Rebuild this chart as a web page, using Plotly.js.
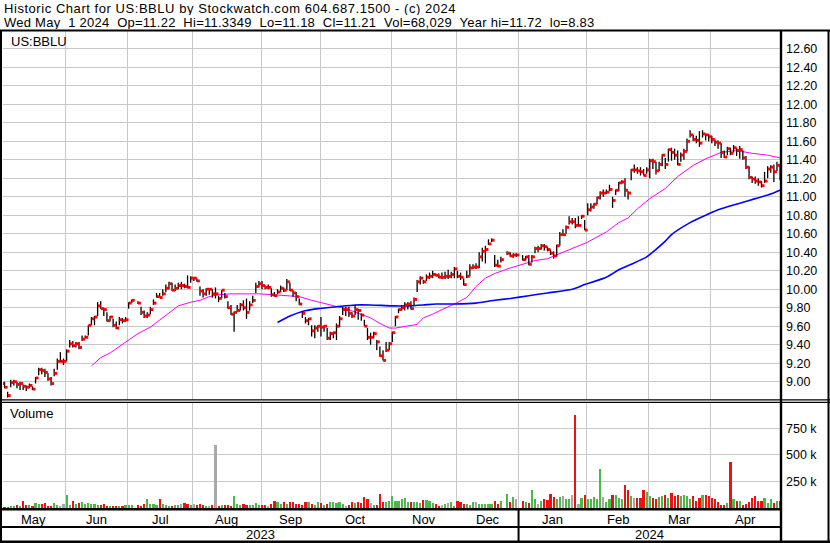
<!DOCTYPE html>
<html><head><meta charset="utf-8">
<script src="https://cdn.plot.ly/plotly-3.0.1.min.js"></script>
<style>html,body{margin:0;padding:0;background:#fff}#chart{width:830px;height:543px}</style>
</head><body><div id="chart"></div>
<script>
// ---- daily bars (trading-day index 0 = 1 May 2023 ... 252 = 1 May 2024) ----
const close = [
9.00,8.98,8.94,8.85,8.99,9.00,8.97,8.98,8.95,8.94,
8.96,8.92,9.04,9.13,9.12,9.10,9.03,8.98,9.09,9.22,
9.22,9.22,9.33,9.41,9.39,9.41,9.37,9.46,9.48,9.61,
9.68,9.70,9.82,9.79,9.78,9.66,9.70,9.61,9.58,9.67,
9.66,9.67,9.85,9.88,null,9.85,9.75,9.71,9.72,9.78,
9.85,9.92,9.91,9.95,10.01,10.06,9.99,10.01,10.04,10.04,
10.03,10.02,10.12,10.12,10.09,9.98,9.95,10.00,10.00,9.95,
9.95,9.90,9.99,9.92,9.80,9.73,9.75,9.77,9.83,9.80,
9.75,9.83,9.88,10.03,10.06,10.04,10.02,10.02,9.94,9.93,
9.97,10.01,9.99,10.08,9.99,9.96,9.92,9.84,9.74,9.66,
9.68,9.55,9.58,9.60,9.59,9.60,9.47,9.52,9.53,9.60,
9.68,9.78,9.78,9.74,9.71,9.78,9.77,9.72,9.60,9.48,
9.48,9.52,9.43,9.28,9.23,9.34,9.41,9.53,9.70,9.78,
9.80,9.83,9.84,9.79,9.89,10.08,10.12,10.08,10.13,10.14,
10.16,10.15,10.13,10.13,10.14,10.14,10.16,10.22,10.14,10.13,
10.05,10.14,10.23,10.24,10.24,10.35,10.41,10.43,10.49,10.53,
10.26,10.25,10.32,null,10.39,10.36,10.37,10.37,null,10.32,
10.35,10.27,10.35,10.44,10.44,10.47,10.46,10.43,10.39,10.36,
10.47,10.59,10.59,10.67,10.73,10.73,10.69,10.69,10.79,10.64,
10.86,10.89,10.92,10.99,11.04,11.04,11.05,11.08,10.96,11.07,
11.15,11.16,11.07,11.04,11.29,11.29,11.28,11.27,11.23,11.29,
11.39,11.38,11.28,11.35,11.45,11.35,11.51,11.48,11.45,11.35,
11.45,11.49,11.60,11.67,11.62,11.61,11.58,11.68,11.67,11.65,
11.62,11.59,11.58,11.48,11.43,11.52,11.47,11.53,11.50,11.51,
11.42,11.32,11.21,11.19,11.17,11.16,11.12,11.17,11.30,11.32,
11.27,11.34,11.21];
const high = [
9.05,9.07,9.00,8.89,9.02,9.02,9.00,9.00,8.97,8.96,
8.98,8.95,9.05,9.15,9.15,9.14,9.09,9.05,9.14,9.25,
9.32,9.25,9.35,9.45,9.44,9.43,9.43,9.50,9.50,9.61,
9.70,9.71,9.86,9.87,9.80,9.75,9.71,9.68,9.65,9.70,
9.69,9.70,9.86,9.89,null,9.87,9.81,9.77,9.75,9.81,
9.89,9.96,9.96,10.00,10.05,10.08,10.07,10.05,10.07,10.08,
10.06,10.15,10.14,10.13,10.12,10.03,10.00,10.01,10.01,10.00,
10.02,9.93,9.99,9.96,9.87,9.83,9.76,9.83,9.85,9.88,
9.90,9.87,9.93,10.07,10.09,10.09,10.04,10.05,10.01,9.97,
10.00,10.04,10.02,10.11,10.07,9.99,9.97,9.90,9.76,9.70,
9.69,9.61,9.61,9.61,9.70,9.61,9.58,9.54,9.54,9.63,
9.71,9.81,9.81,9.81,9.75,9.83,9.79,9.74,9.67,9.58,
9.53,9.54,9.45,9.38,9.34,9.43,9.43,9.54,9.71,9.79,
9.83,9.86,9.86,9.87,9.91,10.10,10.14,10.10,10.16,10.18,
10.20,10.17,10.17,10.18,10.19,10.21,10.19,10.24,10.20,10.18,
10.12,10.20,10.27,10.27,10.28,10.40,10.45,10.47,10.54,10.55,
10.37,10.32,10.35,null,10.41,10.40,10.39,10.39,null,10.37,
10.36,10.37,10.37,10.46,10.47,10.49,10.49,10.46,10.43,10.41,
10.48,10.62,10.65,10.69,10.79,10.77,10.77,10.79,10.80,10.75,
10.93,10.93,10.93,11.00,11.06,11.08,11.08,11.13,11.00,11.08,
11.16,11.18,11.20,11.06,11.30,11.35,11.32,11.32,11.30,11.32,
11.41,11.41,11.38,11.38,11.46,11.42,11.52,11.53,11.52,11.50,
11.48,11.52,11.63,11.72,11.67,11.66,11.71,11.72,11.68,11.68,
11.66,11.62,11.61,11.58,11.50,11.54,11.53,11.56,11.53,11.55,
11.50,11.44,11.33,11.22,11.22,11.20,11.17,11.27,11.33,11.34,
11.35,11.38,11.3349];
const low = [
8.96,8.94,8.93,8.83,8.94,8.96,8.93,8.91,8.91,8.90,
8.93,8.91,8.98,9.07,9.08,9.05,9.01,8.96,9.06,9.13,
9.21,9.18,9.22,9.37,9.37,9.37,9.35,9.44,9.47,9.50,
9.61,9.61,9.71,9.79,9.71,9.65,9.65,9.59,9.57,9.61,
9.63,9.65,9.79,9.85,null,9.84,9.72,9.69,9.69,9.73,
9.83,9.91,9.91,9.93,9.97,10.00,9.98,9.98,10.00,10.00,
10.01,10.01,10.07,10.09,10.08,9.93,9.91,9.93,9.94,9.91,
9.90,9.86,9.90,9.90,9.79,9.72,9.54,9.76,9.77,9.77,
9.68,9.77,9.85,9.96,10.02,10.00,10.00,10.00,9.92,9.92,
9.95,9.97,9.97,9.99,9.98,9.92,9.87,9.83,9.69,9.63,
9.61,9.49,9.47,9.54,9.49,9.54,9.45,9.45,9.47,9.45,
9.59,9.72,9.71,9.70,9.69,9.72,9.67,9.66,9.60,9.45,
9.40,9.47,9.34,9.27,9.23,9.32,9.34,9.43,9.60,9.74,
9.77,9.77,9.78,9.78,9.83,9.97,10.05,10.06,10.09,10.11,
10.12,10.14,10.12,10.11,10.11,10.11,10.12,10.12,10.12,10.10,
10.04,10.12,10.14,10.22,10.22,10.23,10.30,10.28,10.48,10.51,
10.24,10.24,10.29,null,10.37,10.35,10.34,10.35,null,10.31,
10.31,10.26,10.29,10.39,10.40,10.43,10.42,10.41,10.37,10.33,
10.35,10.47,10.58,10.60,10.70,10.70,10.66,10.68,10.76,10.64,
10.80,10.84,10.87,10.92,10.97,11.00,11.03,11.06,10.88,11.02,
11.06,11.14,11.00,10.97,11.18,11.26,11.25,11.23,11.23,11.25,
11.20,11.30,11.24,11.28,11.33,11.30,11.38,11.39,11.40,11.34,
11.38,11.40,11.49,11.64,11.60,11.58,11.54,11.64,11.61,11.60,
11.58,11.55,11.52,11.42,11.42,11.45,11.45,11.48,11.44,11.41,
11.40,11.30,11.19,11.15,11.14,11.12,11.10,11.15,11.20,11.26,
11.16,11.28,11.18];
// volume in thousands of shares
const volumeK = [
30,32,10,12,22,20,25,22,70,25,
25,22,45,35,40,45,20,15,50,30,
20,40,125,30,65,40,50,55,40,45,
35,40,30,30,40,20,20,15,20,15,
20,30,25,25,0,30,20,35,85,40,
35,30,85,35,25,20,20,30,30,40,
45,35,25,35,30,35,25,20,15,25,
596,15,30,30,30,15,115,40,25,35,
30,25,30,50,30,30,25,20,35,65,
60,40,55,40,60,55,35,35,25,55,
55,40,30,60,50,25,40,60,60,50,
55,40,20,25,60,50,60,50,100,80,
45,25,30,130,55,60,70,110,65,70,
85,95,60,60,55,60,50,75,75,70,
45,40,15,30,40,50,55,20,70,60,
40,35,25,55,55,35,40,40,35,40,
70,40,70,0,130,60,100,80,0,70,
60,50,165,80,40,65,85,75,130,105,
80,105,110,80,80,120,871,40,90,120,
85,85,105,85,371,105,60,85,120,120,
95,80,217,165,115,90,90,95,165,150,
110,95,80,105,110,120,90,140,110,125,
110,120,110,85,110,70,90,120,120,110,
90,80,60,30,30,50,429,85,70,70,
30,40,55,95,110,70,65,90,50,80,
50,70,68.029];
// moving averages (day index, price)
const maShortDay = [30,33,36,39,42,45,49,52,55,58,62,65,68,71,75,80,84,89,97,101,106,109,113,116,120,123,126,128,132,135,137,140,143,147,151,154,157,160,165,169,173,177,185,190,196,200,203,206,210,215,219,224,228,230,233,238,243,248,252];
const maShortVal = [9.17,9.26,9.31,9.38,9.45,9.52,9.59,9.67,9.75,9.82,9.86,9.88,9.92,9.94,9.95,9.95,9.95,9.94,9.92,9.88,9.84,9.81,9.78,9.74,9.69,9.63,9.58,9.58,9.60,9.62,9.69,9.73,9.78,9.84,9.91,10.03,10.12,10.17,10.23,10.27,10.31,10.33,10.44,10.51,10.62,10.72,10.77,10.87,10.98,11.09,11.22,11.34,11.41,11.44,11.48,11.50,11.47,11.45,11.42];
const maLongDay = [90,94,98,103,109,115,120,127,132,137,141,147,154,160,165,171,177,185,189,196,200,204,209,212,215,217,223,228,233,239,244,249,252];
const maLongVal = [9.64,9.71,9.76,9.79,9.81,9.83,9.83,9.82,9.82,9.83,9.84,9.84,9.85,9.88,9.90,9.93,9.96,10.00,10.05,10.13,10.21,10.27,10.35,10.43,10.52,10.59,10.72,10.80,10.87,10.93,10.98,11.03,11.07];
// calendar / tick labels
const months = ['May','Jun','Jul','Aug','Sep','Oct','Nov','Dec','Jan','Feb','Mar','Apr'];
const monthStart = [1.5,22,42,63,85,104,127,148,168,190,210,230]; // first day index of each month on the chart
const years = ['2023','2024'];
const yearStartMonth = [0,8];
const priceTicks = [9.00,9.20,9.40,9.60,9.80,10.00,10.20,10.40,10.60,10.80,11.00,11.20,11.40,11.60,11.80,12.00,12.20,12.40,12.60];
const volTicks = [250,500,750];
const volTickText = ['250 k','500 k','750 k'];
const titleLine1 = 'Historic Chart for US:BBLU by Stockwatch.com 604.687.1500 - (c) 2024';
const titleLine2 = 'Wed May\u00a0\u00a01 2024\u00a0\u00a0Op=11.22\u00a0\u00a0Hi=11.3349\u00a0\u00a0Lo=11.18\u00a0\u00a0Cl=11.21\u00a0\u00a0Vol=68,029\u00a0\u00a0Year hi=11.72\u00a0\u00a0lo=8.83';

// ---------------- build ----------------
const W = 830, H = 543, L = 3, R = 781, T = 31, B = 509;
const px = x => (x - L) / (R - L);
const py = y => (B - y) / (B - T);
const xEnd = 252.3;
const FONT = 'Liberation Sans, Arial, sans-serif';

const n = close.length;
const segX = [], segY = [], cX = [], cY = [];
for (let i = 0; i < n; i++) {
  if (close[i] == null) continue;
  segX.push(i, i, null); segY.push(low[i], high[i], null);
  cX.push(i + 0.5); cY.push(close[i]);
}
// volume colour: up = green, down = red, unchanged = grey
const volColor = []; let prev = null;
for (let i = 0; i < n; i++) {
  const c = close[i];
  if (c == null || prev == null) volColor.push('#a8a8a8');
  else if (c > prev + 1e-9) volColor.push('#4cb848');
  else if (c < prev - 1e-9) volColor.push('#f01010');
  else volColor.push('#a8a8a8');
  if (c != null) prev = c;
}
const idx = close.map((_, i) => i);

const traces = [
  {type:'scatter', mode:'lines', x:maShortDay, y:maShortVal, line:{color:'#ff00ff', width:1}, xaxis:'x', yaxis:'y', hoverinfo:'skip'},
  {type:'scatter', mode:'lines', x:maLongDay, y:maLongVal, line:{color:'#0000ff', width:1.6, shape:'spline', smoothing:0.6}, xaxis:'x', yaxis:'y', hoverinfo:'skip'},
  {type:'scatter', mode:'lines', x:segX, y:segY, line:{color:'#000', width:1.3}, xaxis:'x', yaxis:'y', hoverinfo:'skip', connectgaps:false},
  {type:'scatter', mode:'markers', x:cX, y:cY, marker:{symbol:'square', size:2.9, color:'#ff0000', line:{width:0}}, xaxis:'x', yaxis:'y', hoverinfo:'skip'},
  {type:'bar', x:idx, y:volumeK, marker:{color:volColor, line:{width:0}}, width:0.7, xaxis:'x', yaxis:'y2', hoverinfo:'skip'}
];

const gridVals = monthStart.slice(1).map(v => v - 0.3);
const line = (x0,y0,x1,y1,w) => ({type:'line', xref:'paper', yref:'paper', x0:px(x0), y0:py(y0), x1:px(x1), y1:py(y1), line:{color:'#000', width:w}});
const shapes = [
  line(0,30.5,830,30.5,2),
  line(1,30,1,543,2),
  line(781,30,781,543,2.4),
  line(828.5,30,828.5,543,2),
  line(0,399.8,830,399.8,1.3),
  line(0,402.4,830,402.4,1.3),
  line(0,509.3,781,509.3,2.6),
  line(0,527,781,527,2),
  line(0,541.8,830,541.8,2.4),
  {type:'line', xref:'x', yref:'paper', x0:gridVals[7], x1:gridVals[7], y0:py(509), y1:py(543), line:{color:'#000', width:2}}
];

const annotations = [
  {xref:'paper', yref:'paper', x:px(3), y:py(8), xanchor:'left', yanchor:'middle', height:13, borderpad:0, text:'<span style="letter-spacing:0.55px">' + titleLine1 + '</span>', showarrow:false, font:{family:FONT, size:13, color:'#000'}},
  {xref:'paper', yref:'paper', x:px(3), y:py(22.6), xanchor:'left', yanchor:'middle', height:13, borderpad:0, text:'<span style="letter-spacing:0.25px">' + titleLine2 + '</span>', showarrow:false, font:{family:FONT, size:13, color:'#000'}},
  {xref:'paper', yref:'paper', x:px(9), y:py(42), xanchor:'left', yanchor:'middle', text:'US:BBLU', showarrow:false, font:{family:FONT, size:13, color:'#000'}},
  {xref:'paper', yref:'paper', x:px(8), y:py(413), xanchor:'left', yanchor:'middle', text:'Volume', showarrow:false, font:{family:FONT, size:13, color:'#000'}}
];
months.forEach((m, k) => {
  const a = monthStart[k], b = k + 1 < monthStart.length ? monthStart[k+1] : xEnd;
  annotations.push({xref:'x', yref:'paper', x:(a + b) / 2 - 0.3, y:py(519), xanchor:'center', yanchor:'middle', text:m, showarrow:false, font:{family:FONT, size:13, color:'#000'}});
});
years.forEach((yr, k) => {
  const a = yearStartMonth[k] === 0 ? monthStart[0] - 0.3 : gridVals[yearStartMonth[k]-1];
  const b = k + 1 < years.length ? gridVals[yearStartMonth[k+1]-1] : xEnd;
  annotations.push({xref:'x', yref:'paper', x:(a + b) / 2, y:py(534.5), xanchor:'center', yanchor:'middle', text:yr, showarrow:false, font:{family:FONT, size:13, color:'#000'}});
});

const layout = {
  width:W, height:H, margin:{l:L, r:W-R, t:T, b:H-B, pad:0},
  paper_bgcolor:'#fff', plot_bgcolor:'#fff', showlegend:false,
  font:{family:FONT, size:12.5, color:'#000'},
  xaxis:{domain:[0,1], range:[1.5, xEnd], anchor:'y2', tickmode:'array', tickvals:gridVals, showticklabels:false, ticks:'', showgrid:true, gridcolor:'#c8c8c8', gridwidth:1, zeroline:false, showline:false, fixedrange:true},
  yaxis:{domain:[py(400), 1], range:[8.802, 12.793], side:'right', anchor:'x', tickmode:'array', tickvals:priceTicks, ticktext:priceTicks.map(v => v.toFixed(2)), ticks:'', ticklabelstandoff:4, showgrid:true, gridcolor:'#c8c8c8', gridwidth:1, zeroline:false, showline:false, tickfont:{family:FONT, size:12.5, color:'#000'}},
  yaxis2:{domain:[py(508), py(402)], range:[0, 997], side:'right', anchor:'x', tickmode:'array', tickvals:volTicks, ticktext:volTickText, ticks:'', ticklabelstandoff:4, showgrid:true, gridcolor:'#c8c8c8', gridwidth:1, zeroline:false, showline:false, tickfont:{family:FONT, size:12.5, color:'#000'}},
  bargap:0, shapes:shapes, annotations:annotations
};
Plotly.newPlot('chart', traces, layout, {staticPlot:true, displayModeBar:false});
</script></body></html>
